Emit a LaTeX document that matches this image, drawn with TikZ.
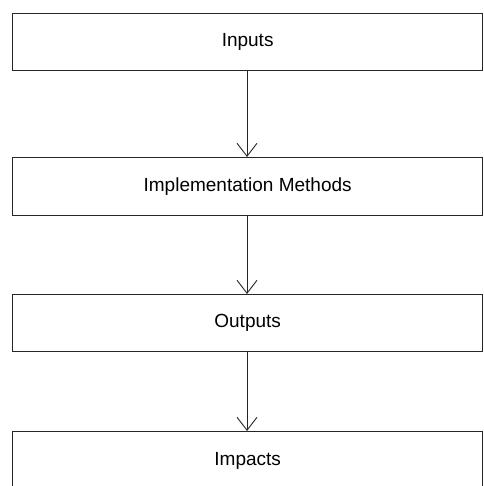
\documentclass[tikz,border=0pt]{standalone}
\usepackage{fontspec}
\setmainfont{Liberation Sans}
\usetikzlibrary{arrows.meta}
\begin{document}
\begin{tikzpicture}[x=1pt,y=-1pt,
  stage/.style={draw=black!85, line width=1.3pt, minimum width=470pt,
    anchor=north west, inner sep=0pt, font=\fontsize{19}{21}\selectfont},
  flow/.style={draw=black!85, line width=1pt,
    -{Straight Barb[length=13pt,width=20pt,line width=0.9pt]}}]
\useasboundingbox (0,0) rectangle (483,486);
\begin{scope}
\clip (0,0) rectangle (483,486);
\node[stage, minimum height=57pt] (inp) at (12,13) {Inputs};
\node[stage, minimum height=58pt] (imp) at (12,157) {Implementation Methods};
\node[stage, minimum height=57pt] (out) at (12,294) {Outputs};
\node[stage, minimum height=58pt] (ipc) at (12,431) {Impacts};
\end{scope}
\draw[flow] (inp.south -| 247,0) -- (imp.north -| 247,0);
\draw[flow] (imp.south -| 247,0) -- (out.north -| 247,0);
\draw[flow] (out.south -| 247,0) -- (ipc.north -| 247,0);
\end{tikzpicture}
\end{document}
